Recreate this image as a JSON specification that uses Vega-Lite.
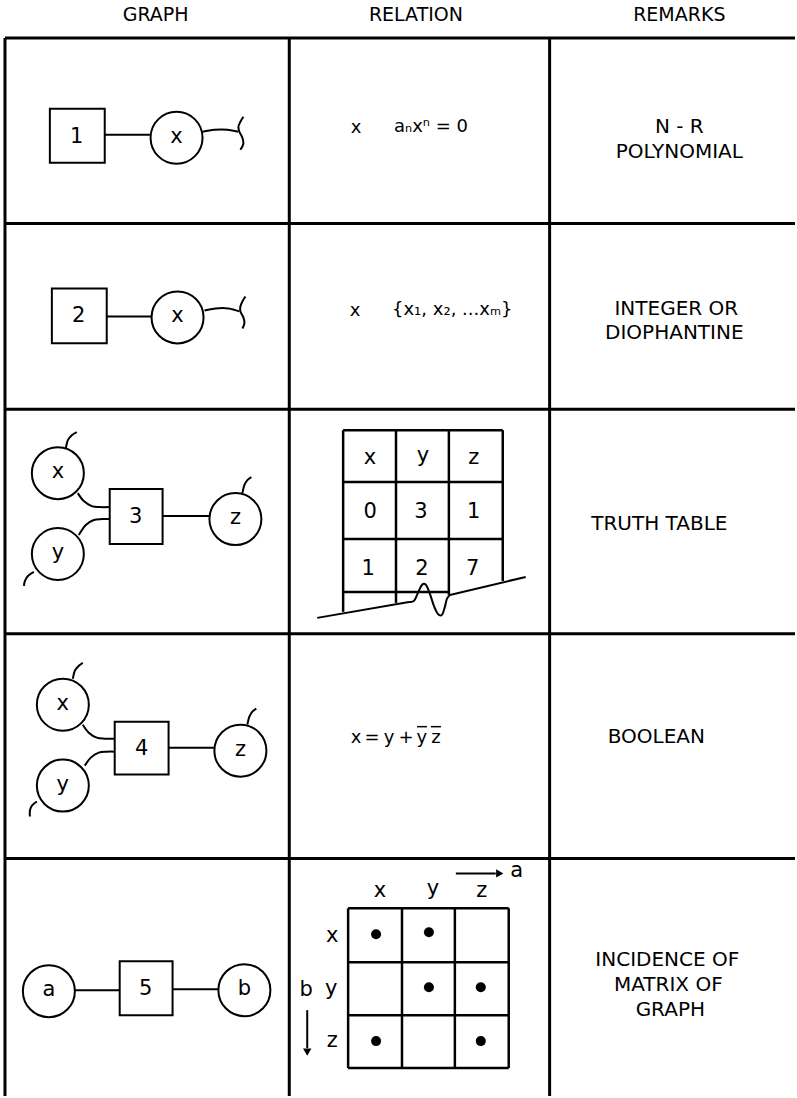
{
  "$schema": "https://vega.github.io/schema/vega-lite/v6.json",
  "width": 797,
  "height": 1098,
  "autosize": {"type": "fit", "contains": "padding"},
  "padding": 0,
  "background": "white",
  "config": {"view": {"stroke": null}},
  "datasets": {
    "grid": [
      {"x": 5, "y": 38, "x2": 797, "y2": 38},
      {"x": 5, "y": 38, "x2": 5, "y2": 1098},
      {"x": 290, "y": 38, "x2": 290, "y2": 1098},
      {"x": 551, "y": 38, "x2": 551, "y2": 1098},
      {"x": 5, "y": 224, "x2": 797, "y2": 224},
      {"x": 5, "y": 410, "x2": 797, "y2": 410},
      {"x": 5, "y": 635, "x2": 797, "y2": 635},
      {"x": 5, "y": 860, "x2": 797, "y2": 860}
    ],
    "links": [
      {"x": 105, "y": 135, "x2": 151, "y2": 135},
      {"x": 107, "y": 317, "x2": 152, "y2": 317},
      {"x": 163, "y": 517, "x2": 210, "y2": 517},
      {"x": 169, "y": 749, "x2": 215, "y2": 749},
      {"x": 75, "y": 992, "x2": 120, "y2": 992},
      {"x": 173, "y": 991, "x2": 219, "y2": 991},
      {"x": 308, "y": 1012, "x2": 308, "y2": 1050},
      {"x": 457, "y": 875, "x2": 497, "y2": 875}
    ],
    "tables": [
      {"x": 344, "y": 431, "x2": 344, "y2": 613},
      {"x": 397, "y": 431, "x2": 397, "y2": 604},
      {"x": 450, "y": 431, "x2": 450, "y2": 596},
      {"x": 504, "y": 431, "x2": 504, "y2": 582},
      {"x": 344, "y": 431, "x2": 504, "y2": 431},
      {"x": 344, "y": 483, "x2": 504, "y2": 483},
      {"x": 344, "y": 540, "x2": 504, "y2": 540},
      {"x": 344, "y": 593, "x2": 450, "y2": 593},
      {"x": 349, "y": 910, "x2": 349, "y2": 1070},
      {"x": 403, "y": 910, "x2": 403, "y2": 1070},
      {"x": 456, "y": 910, "x2": 456, "y2": 1070},
      {"x": 510, "y": 910, "x2": 510, "y2": 1070},
      {"x": 349, "y": 910, "x2": 510, "y2": 910},
      {"x": 349, "y": 964, "x2": 510, "y2": 964},
      {"x": 349, "y": 1017, "x2": 510, "y2": 1017},
      {"x": 349, "y": 1070, "x2": 510, "y2": 1070}
    ],
    "overbars": [
      {"x": 418, "y": 728, "x2": 428, "y2": 728},
      {"x": 432, "y": 728, "x2": 442, "y2": 728}
    ],
    "squares": [
      {"x": 50, "y": 109, "x2": 105, "y2": 163},
      {"x": 52, "y": 289, "x2": 107, "y2": 344},
      {"x": 110, "y": 490, "x2": 163, "y2": 545},
      {"x": 115, "y": 723, "x2": 169, "y2": 776},
      {"x": 120, "y": 963, "x2": 173, "y2": 1017}
    ],
    "circles": [
      {"x": 177, "y": 138},
      {"x": 178, "y": 318},
      {"x": 58, "y": 474},
      {"x": 58, "y": 555},
      {"x": 236, "y": 520},
      {"x": 63, "y": 706},
      {"x": 63, "y": 787},
      {"x": 241, "y": 752},
      {"x": 49, "y": 993},
      {"x": 245, "y": 992}
    ],
    "dots": [
      {"x": 377, "y": 936},
      {"x": 430, "y": 934},
      {"x": 430, "y": 989},
      {"x": 482, "y": 989},
      {"x": 377, "y": 1043},
      {"x": 482, "y": 1043}
    ],
    "headsDown": [{"x": 308, "y": 1054}],
    "headsRight": [{"x": 501, "y": 875}],
    "curves": [
      {"path": "t1a", "ord": 1, "x": 203, "y": 132},
      {"path": "t1a", "ord": 2, "x": 215, "y": 130},
      {"path": "t1a", "ord": 3, "x": 228, "y": 130},
      {"path": "t1a", "ord": 4, "x": 239, "y": 132},
      {"path": "t1b", "ord": 1, "x": 244, "y": 117},
      {"path": "t1b", "ord": 2, "x": 241, "y": 122},
      {"path": "t1b", "ord": 3, "x": 239, "y": 127},
      {"path": "t1b", "ord": 4, "x": 240, "y": 132},
      {"path": "t1b", "ord": 5, "x": 243, "y": 138},
      {"path": "t1b", "ord": 6, "x": 244, "y": 144},
      {"path": "t1b", "ord": 7, "x": 241, "y": 150},
      {"path": "t2a", "ord": 1, "x": 205, "y": 311},
      {"path": "t2a", "ord": 2, "x": 216, "y": 309},
      {"path": "t2a", "ord": 3, "x": 229, "y": 309},
      {"path": "t2a", "ord": 4, "x": 240, "y": 312},
      {"path": "t2b", "ord": 1, "x": 246, "y": 297},
      {"path": "t2b", "ord": 2, "x": 243, "y": 302},
      {"path": "t2b", "ord": 3, "x": 241, "y": 307},
      {"path": "t2b", "ord": 4, "x": 241, "y": 312},
      {"path": "t2b", "ord": 5, "x": 244, "y": 318},
      {"path": "t2b", "ord": 6, "x": 245, "y": 324},
      {"path": "t2b", "ord": 7, "x": 243, "y": 329},
      {"path": "r3x", "ord": 1, "x": 66, "y": 449},
      {"path": "r3x", "ord": 2, "x": 68, "y": 441},
      {"path": "r3x", "ord": 3, "x": 72, "y": 436},
      {"path": "r3x", "ord": 4, "x": 77, "y": 433},
      {"path": "r3y", "ord": 1, "x": 34, "y": 573},
      {"path": "r3y", "ord": 2, "x": 28, "y": 577},
      {"path": "r3y", "ord": 3, "x": 25, "y": 582},
      {"path": "r3y", "ord": 4, "x": 24, "y": 587},
      {"path": "r3z", "ord": 1, "x": 243, "y": 494},
      {"path": "r3z", "ord": 2, "x": 245, "y": 486},
      {"path": "r3z", "ord": 3, "x": 248, "y": 481},
      {"path": "r3z", "ord": 4, "x": 252, "y": 478},
      {"path": "r3cx", "ord": 1, "x": 78, "y": 494},
      {"path": "r3cx", "ord": 2, "x": 84, "y": 502},
      {"path": "r3cx", "ord": 3, "x": 92, "y": 507},
      {"path": "r3cx", "ord": 4, "x": 100, "y": 508},
      {"path": "r3cx", "ord": 5, "x": 110, "y": 508},
      {"path": "r3cy", "ord": 1, "x": 79, "y": 536},
      {"path": "r3cy", "ord": 2, "x": 86, "y": 526},
      {"path": "r3cy", "ord": 3, "x": 94, "y": 521},
      {"path": "r3cy", "ord": 4, "x": 102, "y": 520},
      {"path": "r3cy", "ord": 5, "x": 110, "y": 520},
      {"path": "r4x", "ord": 1, "x": 73, "y": 680},
      {"path": "r4x", "ord": 2, "x": 75, "y": 672},
      {"path": "r4x", "ord": 3, "x": 79, "y": 667},
      {"path": "r4x", "ord": 4, "x": 83, "y": 664},
      {"path": "r4y", "ord": 1, "x": 37, "y": 803},
      {"path": "r4y", "ord": 2, "x": 32, "y": 807},
      {"path": "r4y", "ord": 3, "x": 30, "y": 812},
      {"path": "r4y", "ord": 4, "x": 30, "y": 818},
      {"path": "r4z", "ord": 1, "x": 248, "y": 726},
      {"path": "r4z", "ord": 2, "x": 250, "y": 718},
      {"path": "r4z", "ord": 3, "x": 253, "y": 713},
      {"path": "r4z", "ord": 4, "x": 257, "y": 710},
      {"path": "r4cx", "ord": 1, "x": 83, "y": 726},
      {"path": "r4cx", "ord": 2, "x": 89, "y": 734},
      {"path": "r4cx", "ord": 3, "x": 97, "y": 739},
      {"path": "r4cx", "ord": 4, "x": 105, "y": 740},
      {"path": "r4cx", "ord": 5, "x": 115, "y": 740},
      {"path": "r4cy", "ord": 1, "x": 85, "y": 767},
      {"path": "r4cy", "ord": 2, "x": 91, "y": 759},
      {"path": "r4cy", "ord": 3, "x": 99, "y": 754},
      {"path": "r4cy", "ord": 4, "x": 107, "y": 753},
      {"path": "r4cy", "ord": 5, "x": 115, "y": 753},
      {"path": "brk1", "ord": 1, "x": 318, "y": 619},
      {"path": "brk1", "ord": 2, "x": 410, "y": 603},
      {"path": "brk2", "ord": 1, "x": 410, "y": 603},
      {"path": "brk2", "ord": 2, "x": 415, "y": 602},
      {"path": "brk2", "ord": 3, "x": 419, "y": 594},
      {"path": "brk2", "ord": 4, "x": 423, "y": 586},
      {"path": "brk2", "ord": 5, "x": 427, "y": 586},
      {"path": "brk2", "ord": 6, "x": 431, "y": 595},
      {"path": "brk2", "ord": 7, "x": 435, "y": 607},
      {"path": "brk2", "ord": 8, "x": 439, "y": 615},
      {"path": "brk2", "ord": 9, "x": 443, "y": 616},
      {"path": "brk2", "ord": 10, "x": 446, "y": 608},
      {"path": "brk2", "ord": 11, "x": 448, "y": 600},
      {"path": "brk2", "ord": 12, "x": 451, "y": 596},
      {"path": "brk3", "ord": 1, "x": 451, "y": 596},
      {"path": "brk3", "ord": 2, "x": 527, "y": 578}
    ],
    "headers": [
      {"x": 156, "y": 15, "t": "GRAPH"},
      {"x": 417, "y": 15, "t": "RELATION"},
      {"x": 681, "y": 15, "t": "REMARKS"}
    ],
    "remarks": [
      {"x": 681, "y": 127, "t": "N - R"},
      {"x": 681, "y": 152, "t": "POLYNOMIAL"},
      {"x": 678, "y": 310, "t": "INTEGER OR"},
      {"x": 676, "y": 334, "t": "DIOPHANTINE"},
      {"x": 661, "y": 525, "t": "TRUTH TABLE"},
      {"x": 658, "y": 738, "t": "BOOLEAN"},
      {"x": 669, "y": 962, "t": "INCIDENCE OF"},
      {"x": 670, "y": 987, "t": "MATRIX OF"},
      {"x": 672, "y": 1012, "t": "GRAPH"}
    ],
    "nodes": [
      {"x": 77, "y": 137, "t": "1"},
      {"x": 177, "y": 137, "t": "x"},
      {"x": 79, "y": 317, "t": "2"},
      {"x": 178, "y": 317, "t": "x"},
      {"x": 58, "y": 473, "t": "x"},
      {"x": 58, "y": 554, "t": "y"},
      {"x": 136, "y": 518, "t": "3"},
      {"x": 236, "y": 519, "t": "z"},
      {"x": 63, "y": 705, "t": "x"},
      {"x": 63, "y": 786, "t": "y"},
      {"x": 142, "y": 750, "t": "4"},
      {"x": 241, "y": 751, "t": "z"},
      {"x": 49, "y": 992, "t": "a"},
      {"x": 146, "y": 991, "t": "5"},
      {"x": 245, "y": 991, "t": "b"}
    ],
    "cells": [
      {"x": 371, "y": 459, "t": "x"},
      {"x": 424, "y": 457, "t": "y"},
      {"x": 475, "y": 459, "t": "z"},
      {"x": 371, "y": 513, "t": "0"},
      {"x": 422, "y": 513, "t": "3"},
      {"x": 475, "y": 513, "t": "1"},
      {"x": 369, "y": 570, "t": "1"},
      {"x": 423, "y": 570, "t": "2"},
      {"x": 474, "y": 570, "t": "7"},
      {"x": 381, "y": 893, "t": "x"},
      {"x": 434, "y": 891, "t": "y"},
      {"x": 483, "y": 893, "t": "z"},
      {"x": 333, "y": 938, "t": "x"},
      {"x": 332, "y": 991, "t": "y"},
      {"x": 333, "y": 1043, "t": "z"},
      {"x": 307, "y": 992, "t": "b"},
      {"x": 518, "y": 873, "t": "a"}
    ],
    "relLeft": [
      {"x": 395, "y": 127, "t": "aₙxⁿ = 0"},
      {"x": 393, "y": 311, "t": "{x₁, x₂, ...xₘ}"}
    ],
    "relCenter": [
      {"x": 357, "y": 128, "t": "x"},
      {"x": 356, "y": 312, "t": "x"},
      {"x": 357, "y": 739, "t": "x"},
      {"x": 373, "y": 739, "t": "="},
      {"x": 390, "y": 739, "t": "y"},
      {"x": 407, "y": 739, "t": "+"},
      {"x": 423, "y": 739, "t": "y"},
      {"x": 437, "y": 739, "t": "z"}
    ]
  },
  "encoding": {
    "x": {"field": "x", "type": "quantitative", "scale": {"domain": [0, 797], "nice": false, "zero": false}, "axis": null},
    "y": {"field": "y", "type": "quantitative", "scale": {"domain": [0, 1098], "nice": false, "zero": false, "reverse": true}, "axis": null}
  },
  "layer": [
    {
      "data": {"name": "grid"},
      "mark": {"type": "rule", "color": "black", "strokeWidth": 3},
      "encoding": {"x2": {"field": "x2"}, "y2": {"field": "y2"}}
    },
    {
      "data": {"name": "tables"},
      "mark": {"type": "rule", "color": "black", "strokeWidth": 2.5},
      "encoding": {"x2": {"field": "x2"}, "y2": {"field": "y2"}}
    },
    {
      "data": {"name": "links"},
      "mark": {"type": "rule", "color": "black", "strokeWidth": 2},
      "encoding": {"x2": {"field": "x2"}, "y2": {"field": "y2"}}
    },
    {
      "data": {"name": "overbars"},
      "mark": {"type": "rule", "color": "black", "strokeWidth": 1.5},
      "encoding": {"x2": {"field": "x2"}, "y2": {"field": "y2"}}
    },
    {
      "data": {"name": "curves"},
      "mark": {"type": "line", "interpolate": "cardinal", "color": "black", "strokeWidth": 2},
      "encoding": {"detail": {"field": "path"}, "order": {"field": "ord", "type": "quantitative"}}
    },
    {
      "data": {"name": "squares"},
      "mark": {"type": "rect", "fill": "white", "stroke": "black", "strokeWidth": 2},
      "encoding": {"x2": {"field": "x2"}, "y2": {"field": "y2"}}
    },
    {
      "data": {"name": "circles"},
      "mark": {"type": "point", "shape": "circle", "filled": false, "stroke": "black", "strokeWidth": 2, "size": 2704, "opacity": 1}
    },
    {
      "data": {"name": "dots"},
      "mark": {"type": "point", "shape": "circle", "filled": true, "color": "black", "size": 100, "opacity": 1}
    },
    {
      "data": {"name": "headsDown"},
      "mark": {"type": "point", "shape": "triangle-down", "filled": true, "color": "black", "size": 70, "opacity": 1}
    },
    {
      "data": {"name": "headsRight"},
      "mark": {"type": "point", "shape": "triangle-right", "filled": true, "color": "black", "size": 70, "opacity": 1}
    },
    {
      "data": {"name": "headers"},
      "mark": {"type": "text", "font": "DejaVu Sans", "fontSize": 19, "color": "black", "align": "center", "baseline": "middle"},
      "encoding": {"text": {"field": "t"}}
    },
    {
      "data": {"name": "remarks"},
      "mark": {"type": "text", "font": "DejaVu Sans", "fontSize": 20, "color": "black", "align": "center", "baseline": "middle"},
      "encoding": {"text": {"field": "t"}}
    },
    {
      "data": {"name": "nodes"},
      "mark": {"type": "text", "font": "DejaVu Sans", "fontSize": 21, "color": "black", "align": "center", "baseline": "middle"},
      "encoding": {"text": {"field": "t"}}
    },
    {
      "data": {"name": "cells"},
      "mark": {"type": "text", "font": "DejaVu Sans", "fontSize": 21, "color": "black", "align": "center", "baseline": "middle"},
      "encoding": {"text": {"field": "t"}}
    },
    {
      "data": {"name": "relLeft"},
      "mark": {"type": "text", "font": "DejaVu Sans", "fontSize": 18, "color": "black", "align": "left", "baseline": "middle"},
      "encoding": {"text": {"field": "t"}}
    },
    {
      "data": {"name": "relCenter"},
      "mark": {"type": "text", "font": "DejaVu Sans", "fontSize": 18, "color": "black", "align": "center", "baseline": "middle"},
      "encoding": {"text": {"field": "t"}}
    }
  ]
}
